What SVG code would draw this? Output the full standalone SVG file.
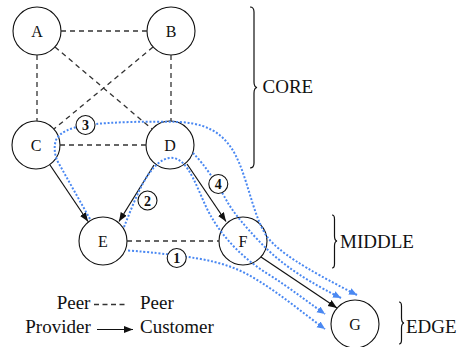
<svg xmlns="http://www.w3.org/2000/svg" width="461" height="347" viewBox="0 0 461 347">
<style>
  .node circle { fill: #fff; stroke: #111; stroke-width: 1.1; }
  .node text, .lbl, .leg { font-family: "Liberation Serif", "Times New Roman", serif; fill: #111; }
  .node text { font-size: 16px; text-anchor: middle; }
  .lbl { font-size: 19px; }
  .leg { font-size: 19px; }
  .peer { stroke: #333; stroke-width: 1.3; stroke-dasharray: 5 4; fill: none; }
  .pc { stroke: #111; stroke-width: 1.2; fill: none; marker-end: url(#ah); }
  .route { stroke: #4a88f2; stroke-width: 2; stroke-dasharray: 2 1.8; fill: none; marker-end: url(#bh); }
  .tag circle { fill: #fff; stroke: #111; stroke-width: 1.1; }
  .tag text { font-family: "Liberation Serif", "Times New Roman", serif; font-size: 14px; font-weight: bold; text-anchor: middle; fill: #111; }
  .brace { fill: none; stroke: #111; stroke-width: 1.2; }
</style>
<defs>
  <marker id="ah" markerUnits="userSpaceOnUse" markerWidth="10" markerHeight="8" refX="9" refY="3.5" orient="auto">
    <path d="M0,0 L9,3.5 L0,7 z" fill="#111"/>
  </marker>
  <marker id="bh" markerUnits="userSpaceOnUse" markerWidth="10" markerHeight="8" refX="8" refY="3.5" orient="auto">
    <path d="M0,0 L8,3.5 L0,7 z" fill="#4a88f2"/>
  </marker>
</defs>

<g id="nodes">
  <g id="node-A" class="node"><circle cx="37" cy="31" r="24"/><text x="37" y="36.5">A</text></g>
  <g id="node-B" class="node"><circle cx="171" cy="31" r="24"/><text x="171" y="36.5">B</text></g>
  <g id="node-C" class="node"><circle cx="36" cy="145" r="24"/><text x="36" y="150.5">C</text></g>
  <g id="node-D" class="node"><circle cx="170" cy="145" r="24"/><text x="170" y="150.5">D</text></g>
  <g id="node-E" class="node"><circle cx="103" cy="241" r="24"/><text x="103" y="246.5">E</text></g>
  <g id="node-F" class="node"><circle cx="243" cy="241" r="24"/><text x="243" y="246.5">F</text></g>
  <g id="node-G" class="node"><circle cx="355" cy="324" r="24"/><text x="355" y="329.5">G</text></g>
</g>

<g id="connectors">
  <line class="peer" x1="61" y1="31" x2="147" y2="31"/>
  <line class="peer" x1="37" y1="55" x2="37" y2="121"/>
  <line class="peer" x1="171" y1="55" x2="171" y2="121"/>
  <line class="peer" x1="55" y1="47" x2="152" y2="129"/>
  <line class="peer" x1="153" y1="47" x2="54" y2="129"/>
  <line class="peer" x1="60" y1="145" x2="146" y2="145"/>
  <line class="peer" x1="127" y1="241" x2="219" y2="241"/>
  <line class="pc" x1="50" y1="165" x2="88" y2="221.5"/>
  <line class="pc" x1="154" y1="165" x2="119" y2="221.5"/>
  <line class="pc" x1="187" y1="164" x2="226" y2="221.5"/>
  <line class="pc" x1="261" y1="257" x2="337" y2="308"/>
</g>

<g id="routes">
  <path id="route-1" class="route" d="M128,250.5 C150,252 165,254 177,255.5 C205,259 225,263 245,273 C275,289 300,311 325,329"/>
  <path id="route-2" class="route" d="M124,227 C135,200 148,162 169,158 C190,155 198,195 212,218 C225,240 245,260 268,274 C290,288 305,300 325,314"/>
  <path id="route-3" class="route" d="M90,219 L58,162 C54,155 54,145 56,140 C60,132 70,128 86,125 C110,122 150,121 180,122 C215,124 230,140 240,165 C250,190 255,220 268,238 C280,252 300,266 357,295"/>
  <path id="route-4" class="route" d="M193,153 C205,165 218,185 228,203 C236,216 245,226 258,240 C275,258 295,275 341,298"/>
</g>

<g id="tags">
  <g id="tag-1" class="tag"><circle cx="176.7" cy="258" r="9.5"/><text x="176.7" y="263">1</text></g>
  <g id="tag-2" class="tag"><circle cx="147.5" cy="200.5" r="9.5"/><text x="147.5" y="205.5">2</text></g>
  <g id="tag-3" class="tag"><circle cx="85.5" cy="125" r="9.5"/><text x="85.5" y="130">3</text></g>
  <g id="tag-4" class="tag"><circle cx="218.3" cy="184" r="9.5"/><text x="218.3" y="189">4</text></g>
</g>

<g id="tiers">
  <path class="brace" d="M250,7 Q254,7 254,12 L254,82 Q254,87 257,87.5 Q254,88 254,93 L254,163 Q254,168 250,168"/>
  <text class="lbl" x="262.5" y="93">CORE</text>
  <path class="brace" d="M332,215 Q334.5,215 334.5,219 L334.5,236 Q334.5,240.5 337,241 Q334.5,241.5 334.5,246 L334.5,264 Q334.5,268 332,268"/>
  <text class="lbl" x="340" y="248">MIDDLE</text>
  <path class="brace" d="M399,302 Q401.5,302 401.5,306 L401.5,318 Q401.5,322.5 404,323 Q401.5,323.5 401.5,328 L401.5,340 Q401.5,344 399,344"/>
  <text class="lbl" x="406" y="332.5">EDGE</text>
</g>

<g id="legend">
  <text class="leg" x="56.7" y="309.3">Peer</text>
  <line class="peer" x1="94" y1="304.5" x2="128" y2="304.5" style="stroke-dasharray:5 3.5"/>
  <text class="leg" x="140" y="309.3">Peer</text>
  <text class="leg" x="25.3" y="333.4">Provider</text>
  <line class="pc" x1="97" y1="329.5" x2="133" y2="329.5"/>
  <text class="leg" x="140" y="333.4">Customer</text>
</g>
</svg>
